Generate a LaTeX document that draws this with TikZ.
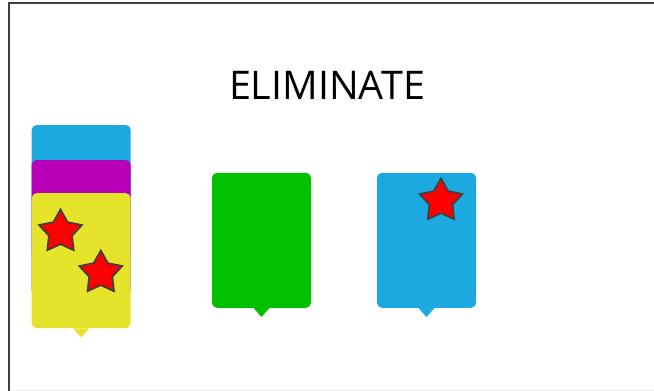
\documentclass[tikz,border=0pt]{standalone}
\usepackage{fontspec}
\newfontfamily\titlefont{Open Sans}
\usetikzlibrary{positioning, shapes.geometric}

\definecolor{cardblue}{RGB}{28,169,224}
\definecolor{cardgreen}{RGB}{0,192,0}
\definecolor{cardmagenta}{RGB}{183,0,183}
\definecolor{cardyellow}{RGB}{230,228,42}
\definecolor{framegray}{RGB}{64,64,64}

\tikzset{
    card/.style={rectangle, rounded corners=5pt, minimum width=99pt, minimum height=135pt, inner sep=0pt},
    redstar/.style={star, star points=5, star point ratio=1.85, minimum size=45pt, inner sep=0pt,
        fill=red, draw=framegray, line width=1.7pt},
}

\begin{document}
\begin{tikzpicture}[x=1pt, y=-1pt]
    \useasboundingbox (0,0) rectangle (654,391);
    % Frame
    \draw[framegray, line width=2pt] (8.5,391) -- (8.5,3) -- (654,3);
    \draw[gray!15, line width=1pt] (9.5,390) -- (654,390);

    % Title
    \node[font=\titlefont\fontsize{39.5}{40}\selectfont] (title) at (327,85) {ELIMINATE};

    % Stacked cards
    \node[card, fill=cardblue] (backcard) at (81.2,192.5) {};
    \node[card, fill=cardmagenta] (midcard) at (81.2,227.5) {};
    \node[card, fill=cardyellow] (frontcard) at (81.2,260.7) {};
    \fill[cardyellow] ([xshift=-8pt]frontcard.south) -- ([yshift=-9pt]frontcard.south) -- ([xshift=8pt]frontcard.south) -- cycle;
    \node[redstar] (starA) at (60.5,232) {};
    \node[redstar] (starB) at (100.8,273) {};

    % Single cards
    \node[card, fill=cardgreen] (greencard) at (261.5,240.3) {};
    \fill[cardgreen] ([xshift=-8pt]greencard.south) -- ([yshift=-9pt]greencard.south) -- ([xshift=8pt]greencard.south) -- cycle;
    \node[card, fill=cardblue] (bluecard) at (426.5,240.3) {};
    \fill[cardblue] ([xshift=-8pt]bluecard.south) -- ([yshift=-9pt]bluecard.south) -- ([xshift=8pt]bluecard.south) -- cycle;
    \node[redstar] (starC) at (441,201) {};
\end{tikzpicture}
\end{document}
